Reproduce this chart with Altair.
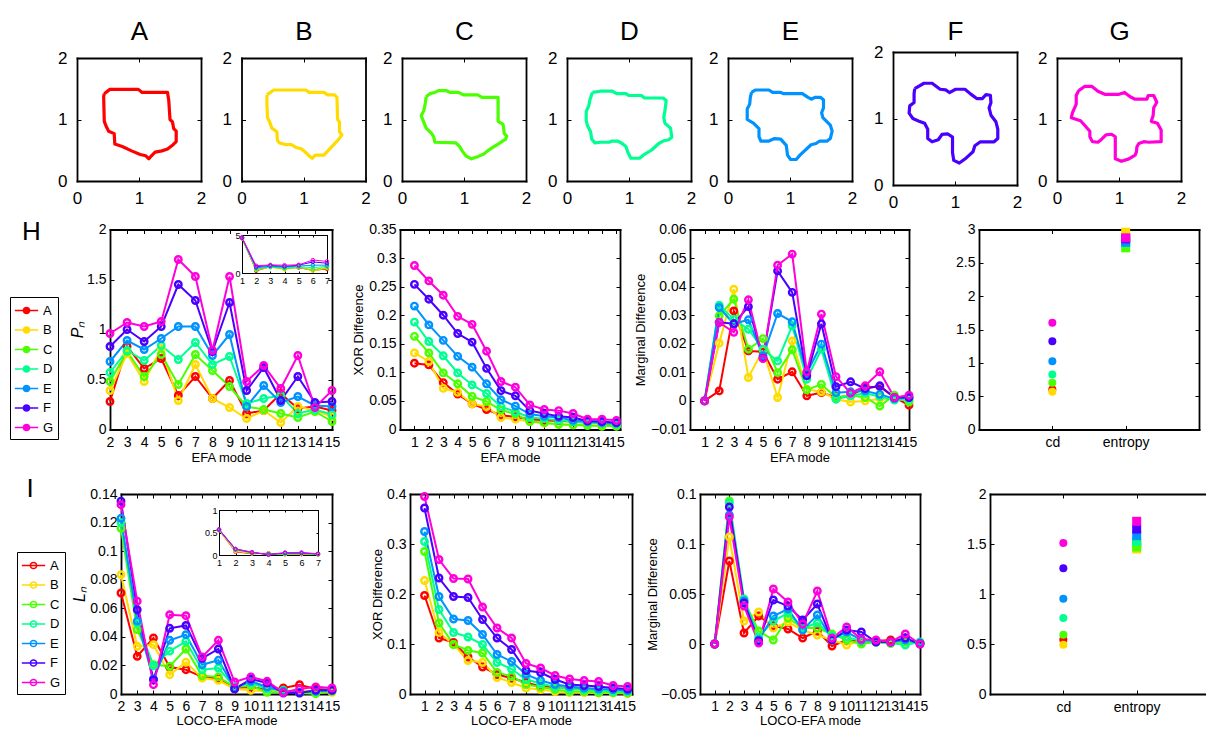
import altair as alt
import pandas as pd

W, H = 1206, 729
FONT = "Liberation Sans"
SERIES = ["A", "B", "C", "D", "E", "F", "G"]
COLORS = ["#FF0000", "#FFDB00", "#49FF00", "#00FF92", "#0092FF", "#4900FF", "#FF00DB"]
CSCALE = alt.Scale(domain=SERIES, range=COLORS)

# ---------------- shapes (contours, data units 0..2) ----------------
SHAPE_A = [(0.44,1.42),(0.53,1.49),(0.99,1.49),(1.05,1.44),(1.46,1.44),(1.48,1.31),(1.50,1.00),(1.54,0.96),
           (1.56,0.85),(1.60,0.81),(1.60,0.64),(1.55,0.59),(1.46,0.52),(1.37,0.49),(1.26,0.47),(1.20,0.41),
           (1.16,0.36),(1.11,0.41),(1.02,0.43),(0.88,0.49),(0.73,0.56),(0.61,0.60),(0.60,0.77),(0.51,0.81),
           (0.47,0.89),(0.44,0.97),(0.43,1.37)]
SHAPE_B = [(0.41,1.40),(0.52,1.48),(1.04,1.48),(1.09,1.44),(1.33,1.44),(1.39,1.40),(1.50,1.40),(1.54,1.36),
           (1.55,1.00),(1.58,0.96),(1.58,0.80),(1.62,0.75),(1.57,0.68),(1.33,0.42),(1.19,0.42),(1.14,0.37),
           (1.09,0.41),(1.04,0.46),(0.97,0.52),(0.87,0.55),(0.81,0.59),(0.72,0.59),(0.61,0.62),(0.58,0.66),
           (0.57,0.80),(0.49,0.86),(0.45,0.97),(0.42,1.03),(0.41,1.25)]
SHAPE_C = [(0.39,1.37),(0.45,1.42),(0.53,1.44),(0.59,1.47),(0.71,1.47),(0.78,1.44),(0.91,1.44),(0.99,1.40),
           (1.22,1.40),(1.29,1.36),(1.55,1.36),(1.55,0.97),(1.63,0.92),(1.65,0.77),(1.69,0.73),(1.67,0.68),
           (1.55,0.60),(1.47,0.55),(1.38,0.49),(1.32,0.44),(1.23,0.40),(1.12,0.36),(1.03,0.41),(0.97,0.49),
           (0.93,0.56),(0.87,0.62),(0.53,0.63),(0.51,0.72),(0.48,0.77),(0.39,0.86),(0.31,1.06),(0.35,1.14),
           (0.37,1.23)]
SHAPE_D = [(0.41,1.44),(0.54,1.46),(0.73,1.46),(0.80,1.42),(0.95,1.42),(1.00,1.39),(1.20,1.39),(1.25,1.35),
           (1.55,1.35),(1.60,1.31),(1.58,1.14),(1.56,1.03),(1.58,0.94),(1.67,0.86),(1.69,0.71),(1.64,0.67),
           (1.55,0.65),(1.48,0.61),(1.36,0.50),(1.23,0.42),(1.17,0.37),(1.03,0.37),(0.98,0.47),(0.95,0.56),
           (0.89,0.61),(0.82,0.65),(0.73,0.65),(0.68,0.63),(0.54,0.63),(0.45,0.62),(0.40,0.68),(0.38,0.80),
           (0.33,0.90),(0.31,0.98),(0.31,1.13),(0.35,1.22),(0.37,1.32)]
SHAPE_E = [(0.38,1.44),(0.44,1.48),(0.66,1.48),(0.72,1.44),(0.85,1.44),(0.90,1.42),(1.20,1.42),(1.29,1.36),
           (1.35,1.33),(1.40,1.36),(1.49,1.36),(1.54,1.32),(1.54,1.19),(1.51,1.11),(1.53,1.03),(1.65,0.91),
           (1.68,0.81),(1.65,0.69),(1.60,0.65),(1.48,0.65),(1.42,0.61),(1.34,0.59),(1.16,0.42),(1.10,0.35),
           (1.01,0.35),(0.96,0.42),(0.94,0.58),(0.85,0.68),(0.75,0.69),(0.66,0.65),(0.53,0.65),(0.50,0.72),
           (0.50,0.85),(0.41,0.94),(0.31,1.00),(0.31,1.17),(0.35,1.25),(0.36,1.36)]
SHAPE_F = [(0.35,1.45),(0.50,1.53),(0.63,1.53),(0.76,1.44),(0.85,1.43),(0.91,1.39),(1.01,1.44),(1.16,1.44),
           (1.25,1.37),(1.35,1.30),(1.44,1.30),(1.50,1.36),(1.57,1.35),(1.58,1.24),(1.55,1.16),(1.58,1.05),
           (1.66,0.95),(1.69,0.84),(1.69,0.70),(1.63,0.65),(1.41,0.65),(1.32,0.59),(1.29,0.50),(1.16,0.39),
           (1.07,0.33),(0.98,0.37),(0.96,0.49),(0.96,0.72),(0.88,0.77),(0.79,0.76),(0.73,0.68),(0.63,0.65),
           (0.56,0.70),(0.56,0.84),(0.51,0.93),(0.42,0.96),(0.32,1.00),(0.26,1.08),(0.27,1.19),(0.34,1.24),
           (0.34,1.37)]
SHAPE_G = [(0.35,1.47),(0.45,1.54),(0.56,1.54),(0.66,1.46),(0.77,1.41),(1.00,1.41),(1.09,1.44),(1.18,1.37),
           (1.26,1.33),(1.45,1.33),(1.47,1.39),(1.56,1.39),(1.61,1.28),(1.56,1.19),(1.55,1.06),(1.52,0.97),
           (1.62,0.94),(1.68,0.83),(1.68,0.64),(1.48,0.63),(1.40,0.64),(1.32,0.61),(1.29,0.56),(1.28,0.47),
           (1.26,0.42),(1.16,0.36),(1.04,0.32),(0.94,0.36),(0.94,0.72),(0.88,0.76),(0.79,0.75),(0.72,0.68),
           (0.66,0.63),(0.57,0.64),(0.53,0.72),(0.53,0.81),(0.46,0.89),(0.38,0.98),(0.23,1.03),(0.25,1.11),
           (0.31,1.25),(0.31,1.39)]
SHAPES = [SHAPE_A, SHAPE_B, SHAPE_C, SHAPE_D, SHAPE_E, SHAPE_F, SHAPE_G]
SHAPE_TICKS = [0, 1, 2]

# ---------------- row H ----------------
EFA_MODES = list(range(2, 16))
ALL_MODES = list(range(1, 16))
INSET_MODES = list(range(1, 8))

PN = {
    "A": [0.28, 0.83, 0.61, 0.71, 0.34, 0.53, 0.31, 0.49, 0.16, 0.19, 0.36, 0.21, 0.23, 0.19],
    "B": [0.39, 0.76, 0.48, 0.81, 0.29, 0.65, 0.31, 0.22, 0.11, 0.19, 0.07, 0.23, 0.19, 0.13],
    "C": [0.48, 0.78, 0.53, 0.75, 0.45, 0.75, 0.59, 0.43, 0.23, 0.20, 0.16, 0.12, 0.18, 0.08],
    "D": [0.57, 0.79, 0.69, 0.84, 0.70, 0.87, 0.65, 0.73, 0.26, 0.31, 0.34, 0.16, 0.20, 0.15],
    "E": [0.68, 0.89, 0.80, 0.91, 1.03, 1.03, 0.74, 0.95, 0.23, 0.44, 0.27, 0.33, 0.24, 0.23],
    "F": [0.83, 1.00, 0.88, 1.03, 1.45, 1.29, 0.78, 1.27, 0.39, 0.62, 0.29, 0.53, 0.27, 0.28],
    "G": [0.96, 1.07, 1.03, 1.08, 1.70, 1.53, 0.79, 1.53, 0.48, 0.64, 0.41, 0.74, 0.22, 0.39],
}
P1 = [4.55, 4.58, 4.60, 4.60, 4.62, 4.65, 4.68]

XOR_H = {
    "A": [0.116, 0.113, 0.082, 0.062, 0.045, 0.035, 0.025, 0.022, 0.018, 0.016, 0.015, 0.014, 0.012, 0.011, 0.009],
    "B": [0.134, 0.119, 0.072, 0.065, 0.045, 0.040, 0.021, 0.018, 0.014, 0.011, 0.009, 0.008, 0.008, 0.006, 0.006],
    "C": [0.163, 0.134, 0.099, 0.080, 0.058, 0.049, 0.034, 0.027, 0.014, 0.012, 0.009, 0.008, 0.007, 0.006, 0.006],
    "D": [0.188, 0.154, 0.129, 0.099, 0.078, 0.063, 0.040, 0.031, 0.021, 0.019, 0.016, 0.014, 0.012, 0.011, 0.009],
    "E": [0.216, 0.183, 0.156, 0.128, 0.109, 0.080, 0.052, 0.041, 0.027, 0.023, 0.021, 0.016, 0.014, 0.012, 0.011],
    "F": [0.254, 0.228, 0.200, 0.168, 0.153, 0.107, 0.068, 0.059, 0.033, 0.028, 0.023, 0.021, 0.015, 0.014, 0.012],
    "G": [0.287, 0.260, 0.235, 0.198, 0.184, 0.137, 0.084, 0.074, 0.043, 0.035, 0.033, 0.028, 0.018, 0.018, 0.016],
}
MARG_H = {
    "A": [0, 0.0035, 0.0315, 0.0175, 0.0172, 0.0076, 0.0102, 0.0018, 0.0029, 0.0012, 0.0018, 0.0047, 0.0050, 0.0012, -0.0015],
    "B": [0, 0.0202, 0.0391, 0.0082, 0.0179, 0.0012, 0.0210, 0.0041, 0.0032, 0.0006, -0.0004, 0.0000, 0.0008, 0.0006, 0.0003],
    "C": [0, 0.0298, 0.0356, 0.0181, 0.0218, 0.0099, 0.0179, 0.0039, 0.0058, 0.0012, 0.0020, 0.0012, -0.0018, 0.0020, -0.0004],
    "D": [0, 0.0335, 0.0286, 0.0251, 0.0181, 0.0140, 0.0263, 0.0076, 0.0181, 0.0006, 0.0018, 0.0027, 0.0015, 0.0003, 0.0006],
    "E": [0, 0.0327, 0.0270, 0.0284, 0.0158, 0.0306, 0.0277, 0.0097, 0.0199, 0.0029, 0.0032, 0.0035, 0.0023, 0.0008, 0.0012],
    "F": [0, 0.0275, 0.0270, 0.0330, 0.0150, 0.0455, 0.0380, 0.0088, 0.0270, 0.0050, 0.0067, 0.0043, 0.0053, 0.0012, 0.0012],
    "G": [0, 0.0275, 0.0240, 0.0354, 0.0148, 0.0475, 0.0514, 0.0102, 0.0304, 0.0085, 0.0027, 0.0053, 0.0102, 0.0012, 0.0020],
}
CATEGORIES = ["cd", "entropy"]
CD_H = [0.60, 0.565, 0.70, 0.825, 1.025, 1.325, 1.60]
ENT_H = [2.88, 2.96, 2.725, 2.80, 2.81, 2.86, 2.875]

# ---------------- row I ----------------
LN = {
    "A": [0.0707, 0.0264, 0.0392, 0.0189, 0.0170, 0.0120, 0.0105, 0.0042, 0.0049, 0.0030, 0.0042, 0.0065, 0.0035, 0.0030],
    "B": [0.0835, 0.0334, 0.0345, 0.0135, 0.0222, 0.0112, 0.0096, 0.0035, 0.0026, 0.0019, 0.0019, 0.0026, 0.0019, 0.0012],
    "C": [0.1160, 0.0450, 0.0205, 0.0194, 0.0315, 0.0128, 0.0120, 0.0049, 0.0058, 0.0012, 0.0012, 0.0007, 0.0002, 0.0019],
    "D": [0.1200, 0.0497, 0.0198, 0.0300, 0.0369, 0.0170, 0.0182, 0.0049, 0.0077, 0.0035, 0.0026, 0.0012, 0.0019, 0.0026],
    "E": [0.1230, 0.0510, 0.0105, 0.0376, 0.0415, 0.0205, 0.0236, 0.0042, 0.0089, 0.0049, 0.0019, 0.0012, 0.0019, 0.0026],
    "F": [0.1350, 0.0590, 0.0100, 0.0460, 0.0480, 0.0250, 0.0315, 0.0035, 0.0105, 0.0077, 0.0007, 0.0007, 0.0026, 0.0026],
    "G": [0.1325, 0.0650, 0.0065, 0.0555, 0.0548, 0.0260, 0.0376, 0.0084, 0.0120, 0.0089, 0.0010, 0.0035, 0.0050, 0.0042],
}
L1 = [0.55, 0.55, 0.56, 0.56, 0.56, 0.57, 0.57]

XOR_I = {
    "A": [0.197, 0.112, 0.103, 0.074, 0.054, 0.039, 0.032, 0.023, 0.015, 0.014, 0.012, 0.010, 0.009, 0.007, 0.007],
    "B": [0.227, 0.123, 0.099, 0.067, 0.063, 0.033, 0.023, 0.012, 0.009, 0.005, 0.003, 0.003, 0.002, 0.002, 0.001],
    "C": [0.285, 0.142, 0.099, 0.087, 0.082, 0.043, 0.035, 0.019, 0.014, 0.009, 0.005, 0.005, 0.003, 0.003, 0.002],
    "D": [0.305, 0.169, 0.123, 0.114, 0.099, 0.063, 0.050, 0.029, 0.021, 0.014, 0.010, 0.009, 0.007, 0.005, 0.005],
    "E": [0.325, 0.195, 0.150, 0.147, 0.119, 0.079, 0.065, 0.039, 0.027, 0.019, 0.015, 0.012, 0.010, 0.009, 0.007],
    "F": [0.372, 0.232, 0.195, 0.193, 0.149, 0.112, 0.089, 0.047, 0.043, 0.029, 0.019, 0.017, 0.015, 0.012, 0.010],
    "G": [0.395, 0.269, 0.231, 0.230, 0.174, 0.132, 0.112, 0.061, 0.052, 0.037, 0.030, 0.027, 0.025, 0.017, 0.015],
}
MARG_I = {
    "A": [0, 0.083, 0.011, 0.028, 0.018, 0.015, 0.006, 0.013, -0.002, 0.004, 0.002, 0.003, 0.004, 0.003, 0.001],
    "B": [0, 0.107, 0.023, 0.032, 0.016, 0.022, 0.014, 0.009, 0.004, -0.001, 0.003, 0.002, 0.0003, 0.002, 0.001],
    "C": [0, 0.143, 0.043, 0.013, 0.004, 0.026, 0.016, 0.016, 0.010, 0.004, 0.000, 0.002, 0.001, 0.002, 0.001],
    "D": [0, 0.141, 0.045, 0.007, 0.023, 0.031, 0.016, 0.021, 0.008, 0.007, 0.003, 0.002, 0.001, -0.001, 0.002],
    "E": [0, 0.129, 0.043, 0.004, 0.028, 0.035, 0.014, 0.029, 0.005, 0.012, 0.004, 0.003, 0.002, 0.004, 0.001],
    "F": [0, 0.137, 0.041, 0.003, 0.044, 0.038, 0.024, 0.040, 0.004, 0.014, 0.012, 0.002, 0.002, 0.006, 0.000],
    "G": [0, 0.127, 0.038, 0.001, 0.055, 0.042, 0.020, 0.053, 0.006, 0.017, 0.005, 0.004, 0.002, 0.010, 0.000],
}
CD_I = [0.543, 0.493, 0.593, 0.76, 0.953, 1.257, 1.51]
ENT_I = [1.50, 1.45, 1.47, 1.527, 1.583, 1.65, 1.727]

# tick value lists
TICKS_PN = [0, 0.5, 1, 1.5, 2]
TICKS_XOR_H = [0, 0.05, 0.1, 0.15, 0.2, 0.25, 0.3, 0.35]
TICKS_MARG_H = [-0.01, 0, 0.01, 0.02, 0.03, 0.04, 0.05, 0.06]
TICKS_CD_H = [0, 0.5, 1, 1.5, 2, 2.5, 3]
TICKS_LN = [0, 0.02, 0.04, 0.06, 0.08, 0.1, 0.12, 0.14]
TICKS_XOR_I = [0, 0.1, 0.2, 0.3, 0.4]
TICKS_MARG_I = [-0.05, 0, 0.05, 0.1, 0.15]
TICKS_CD_I = [0, 0.5, 1, 1.5, 2]


def long(xvals, d):
    rows = []
    for s in SERIES:
        for x, v in zip(xvals, d[s]):
            rows.append({"x": x, "y": v, "s": s})
    return pd.DataFrame(rows)


def mk_axis(orient, pos, values, labels=True, title=None, fmt="~g", lfs=14, lpad=8,
            tfs=13, tpad=2, label_expr=None, tstyle="normal", tick=4, dw=1.8):
    off = {"bottom": pos - H, "top": -pos, "left": -pos, "right": pos - W}[orient]
    kw = dict(orient=orient, offset=off, values=values, grid=False,
              ticks=True, tickSize={"expr": str(-tick)}, tickColor="black", tickWidth=1,
              domain=True, domainColor="black", domainWidth=dw, domainCap="square",
              labels=labels, labelFont=FONT, labelFontSize=lfs, labelColor="black",
              labelPadding=lpad, labelOverlap=False, labelFlush=False, labelBound=False,
              format=fmt)
    if label_expr:
        kw["labelExpr"] = label_expr
    if title:
        kw.update(title=title, titleFont=FONT, titleFontSize=tfs, titleFontWeight="normal",
                  titleColor="black", titlePadding=tpad, titleFontStyle=tstyle)
    else:
        kw["title"] = None
    return alt.Axis(**kw)


# legend glyph: short line with an open circle in the middle
LEG_PATH = "M-1.35,0L1.35,0M0.36,0A0.36,0.36,0,1,1,-0.36,0A0.36,0.36,0,1,1,0.36,0"


def make_legend(x, y):
    return alt.Legend(orient="none", legendX=x, legendY=y, title=None, symbolType=LEG_PATH,
                      symbolSize=300, symbolStrokeWidth=1.5, symbolOffset=3,
                      symbolFillColor="white",
                      labelFont=FONT, labelFontSize=13, labelColor="black", labelOffset=7,
                      strokeColor="black", fillColor="white", padding=4, rowPadding=2.5)


def color_enc(legend=None):
    if legend is None:
        return alt.Color("s:N", scale=CSCALE)
    return alt.Color("s:N", scale=CSCALE, legend=legend)


def series_panel(df, box, xdom, ydom, xt, yt, xtitle=None, ytitle=None, lfs=14, xlpad=10,
                 ylpad=8, xtpad=2, ytpad=3, tfs=13, ytfs=None, lw=2, ps=42, pw=2.4, legend=None,
                 use_stroke=False, tstyle="normal", dw=1.8, tick=4):
    x0, x1, y0, y1 = box
    xsc = alt.Scale(domain=xdom, range=[x0, x1], nice=False, zero=False)
    ysc = alt.Scale(domain=ydom, range=[y1, y0], nice=False, zero=False)
    base = alt.Chart(df)
    if use_stroke:
        # data-driven domain (same A..G order) so that this legend stays separate
        cenc = {"stroke": alt.Stroke("s:N", scale=alt.Scale(range=COLORS), legend=legend)}
    else:
        cenc = {"color": color_enc(legend)}
    lines = base.mark_line(strokeWidth=lw).encode(
        x=alt.X("x:Q", scale=xsc, axis=mk_axis("bottom", y1, xt, title=xtitle, lfs=lfs, lpad=xlpad,
                                                tfs=tfs, tpad=xtpad, dw=dw, tick=tick)),
        y=alt.Y("y:Q", scale=ysc, axis=mk_axis("left", x0, yt, title=ytitle, lfs=lfs, lpad=ylpad,
                                                tfs=ytfs or tfs, tpad=ytpad, tstyle=tstyle, dw=dw,
                                                tick=tick)),
        **cenc)
    pts = base.mark_point(filled=False, shape="circle", size=ps, strokeWidth=pw, opacity=1).encode(
        x=alt.X("x:Q", scale=xsc, axis=mk_axis("top", y0, xt, labels=False, dw=dw, tick=tick)),
        y=alt.Y("y:Q", scale=ysc, axis=mk_axis("right", x1, yt, labels=False, dw=dw, tick=tick)),
        color=color_enc())
    return [lines, pts]


def shape_panel(pts, name, box, tpad):
    x0, x1, y0, y1 = box
    closed = list(pts) + [pts[0]]
    df = pd.DataFrame({"x": [p[0] for p in closed], "y": [p[1] for p in closed],
                       "i": list(range(len(closed))), "s": name})
    xsc = alt.Scale(domain=[0, 2], range=[x0, x1], nice=False, zero=False)
    ysc = alt.Scale(domain=[0, 2], range=[y1, y0], nice=False, zero=False)
    base = alt.Chart(df)
    line = base.mark_line(strokeWidth=3.2, strokeJoin="round").encode(
        x=alt.X("x:Q", scale=xsc, axis=mk_axis("bottom", y1, SHAPE_TICKS, lfs=17, lpad=13)),
        y=alt.Y("y:Q", scale=ysc, axis=mk_axis("left", x0, SHAPE_TICKS, lfs=17, lpad=14)),
        order="i:Q",
        color=color_enc())
    dummy = base.mark_line(strokeWidth=3, opacity=0).encode(
        x=alt.X("x:Q", scale=xsc, axis=mk_axis("top", y0, SHAPE_TICKS, labels=False, title=name,
                                                tfs=26, tpad=tpad)),
        y=alt.Y("y:Q", scale=ysc, axis=mk_axis("right", x1, SHAPE_TICKS, labels=False)),
        order="i:Q",
        color=color_enc())
    return [line, dummy]


def cat_panel(cd, ent, box, ydom, yt):
    x0, x1, y0, y1 = box
    xsc = alt.Scale(domain=[0, 3], range=[x0, x1], nice=False, zero=False)
    ysc = alt.Scale(domain=ydom, range=[y1, y0], nice=False, zero=False)
    df_cd = pd.DataFrame({"x": CATEGORIES.index("cd") + 1, "y": cd, "s": SERIES})
    df_en = pd.DataFrame({"x": CATEGORIES.index("entropy") + 1, "y": ent, "s": SERIES})
    lbl = "[''," + ",".join("'%s'" % c for c in CATEGORIES) + "][datum.value]"
    circ = alt.Chart(df_cd).mark_circle(size=64, opacity=1).encode(
        x=alt.X("x:Q", scale=xsc, axis=mk_axis("bottom", y1, [1, 2], label_expr=lbl, lfs=14, lpad=10)),
        y=alt.Y("y:Q", scale=ysc, axis=mk_axis("left", x0, yt, lfs=14, lpad=8)),
        color=color_enc())
    sq = alt.Chart(df_en).mark_square(size=81, opacity=1).encode(
        x=alt.X("x:Q", scale=xsc, axis=mk_axis("top", y0, [1, 2], labels=False)),
        y=alt.Y("y:Q", scale=ysc, axis=mk_axis("right", x1, yt, labels=False)),
        color=color_enc())
    return [circ, sq]


def inset_df(first, d):
    rows = []
    for k, s in enumerate(SERIES):
        vals = [first[k]] + list(d[s][:6])
        for x, v in zip(INSET_MODES, vals):
            rows.append({"x": x, "y": v, "s": s})
    return pd.DataFrame(rows)


layers = []

# top row shapes
SHAPE_LEFT = [77, 241.5, 402, 567, 728, 893, 1057]
for k, s in enumerate(SERIES):
    if s == "F":
        box = (SHAPE_LEFT[k], SHAPE_LEFT[k] + 124, 52, 185)
        tp = 7.5
    else:
        box = (SHAPE_LEFT[k], SHAPE_LEFT[k] + 124, 58, 181)
        tp = 13.5
    layers += shape_panel(SHAPES[k], s, box, tp)

# row H
layers += series_panel(long(EFA_MODES, PN), (110, 332, 229.5, 429.5), [2, 15], [0, 2],
                       EFA_MODES, TICKS_PN, xtitle="EFA mode", ytitle="P\u2099", xtpad=1.5,
                       ytpad=1, ytfs=16, tstyle="italic", legend=make_legend(10, 297))
layers += series_panel(long(ALL_MODES, XOR_H), (400, 620, 229.5, 429.5), [0, 15.25], [0, 0.35],
                       ALL_MODES, TICKS_XOR_H, xtitle="EFA mode", ytitle="XOR Difference",
                       xtpad=1.5, ytpad=3.5)
layers += series_panel(long(ALL_MODES, MARG_H), (690, 909, 229.5, 429.5), [0, 15], [-0.01, 0.06],
                       ALL_MODES, TICKS_MARG_H, xtitle="EFA mode", ytitle="Marginal Difference",
                       xtpad=1.5, ytpad=3)
layers += cat_panel(CD_H, ENT_H, (979, 1199, 229.5, 429.5), [0, 3], TICKS_CD_H)
layers += series_panel(inset_df(P1, PN), (242, 327, 235, 273), [1, 7], [0, 5], INSET_MODES, [0, 5],
                       lfs=9, xlpad=5, ylpad=4, lw=1, ps=12, pw=1, dw=1, tick=2)

# row I
layers += series_panel(long(EFA_MODES, LN), (121, 332, 494, 694), [2, 15], [0, 0.14],
                       EFA_MODES, TICKS_LN, xtitle="LOCO-EFA mode", ytitle="L\u2099", xlpad=9,
                       xtpad=1, ytpad=2.5, ytfs=16, tstyle="italic", legend=make_legend(17, 552),
                       use_stroke=True)
layers += series_panel(long(ALL_MODES, XOR_I), (410, 632, 494, 694), [0, 15.3], [0, 0.4],
                       ALL_MODES, TICKS_XOR_I, xtitle="LOCO-EFA mode", ytitle="XOR Difference",
                       xlpad=9, xtpad=1, ytpad=2)
layers += series_panel(long(ALL_MODES, MARG_I), (700, 920, 494, 694), [0, 15], [-0.05, 0.15],
                       ALL_MODES, TICKS_MARG_I, xtitle="LOCO-EFA mode", ytitle="Marginal Difference",
                       xlpad=9, xtpad=1, ytpad=1.5)
layers += cat_panel(CD_I, ENT_I, (990, 1210, 494, 694), [0, 2], TICKS_CD_I)
layers += series_panel(inset_df(L1, LN), (219, 318, 510, 555), [1, 7], [0, 1], INSET_MODES,
                       [0, 0.5, 1], lfs=9, xlpad=5, ylpad=4, lw=1, ps=12, pw=1, dw=1, tick=2)

# row letters
for letter, px, py in [("H", 31.5, 240), ("I", 30, 497)]:
    layers.append(alt.Chart(pd.DataFrame({"t": [letter]})).mark_text(
        font=FONT, fontSize=26, align="center", baseline="alphabetic", color="black").encode(
        text="t:N", x=alt.value(px), y=alt.value(py)))

chart = (alt.layer(*layers)
         .resolve_scale(x="independent", y="independent")
         .properties(width=W, height=H, padding=0, autosize=alt.AutoSizeParams(type="none"))
         .configure(font=FONT, background="white")
         .configure_legend(disable=True)
         .configure_view(stroke=None))

chart.save("out.html", embed_options={"renderer": "svg", "actions": False})
